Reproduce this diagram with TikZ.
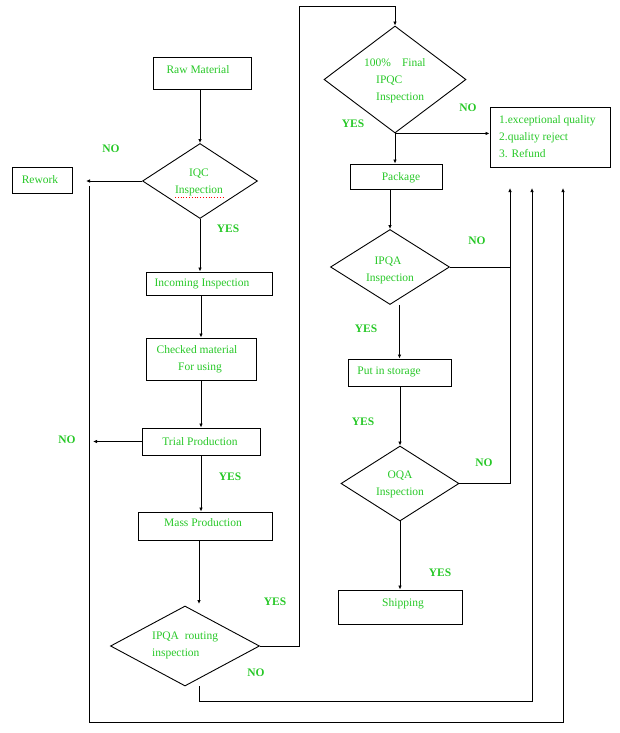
\documentclass[tikz,border=0pt]{standalone}
\usepackage{fontspec}
\setmainfont{Liberation Serif}
\usetikzlibrary{shapes.geometric,arrows.meta}
\definecolor{txtgreen}{RGB}{40,200,40}
\begin{document}
\begin{tikzpicture}[x=1pt,y=-1pt,
  every node/.style={font=\fontsize{11.5}{17}\selectfont, text=txtgreen},
  box/.style={draw=black, line width=0.9pt, rectangle, inner sep=0pt},
  dia/.style={draw=black, line width=0.9pt, diamond, inner sep=0pt},
  lbl/.style={font=\fontsize{11.5}{14}\selectfont\bfseries, text=txtgreen},
  txt/.style={inner sep=0pt, align=center},
  conn/.style={line width=0.9pt, draw=black},
  arr/.style={conn, -{Latex[length=4pt,width=3.5pt]}}]
\useasboundingbox (0,0) rectangle (619,733);

% shapes
\node[box, minimum width=98pt, minimum height=32pt] (raw) at (202,73) {};
\node[dia, minimum width=115pt, minimum height=75pt] (iqc) at (200,181) {};
\node[box, minimum width=60pt, minimum height=26pt] (rework) at (42,180) {};
\node[box, minimum width=126pt, minimum height=23pt] (inc) at (209,283.5) {};
\node[box, minimum width=110pt, minimum height=42pt] (chk) at (201,359) {};
\node[box, minimum width=118pt, minimum height=27pt] (trial) at (201,441.5) {};
\node[box, minimum width=134pt, minimum height=28pt] (mass) at (205,526) {};
\node[dia, minimum width=149pt, minimum height=80pt] (ipqar) at (185,646) {};
\node[dia, minimum width=142pt, minimum height=107pt] (ipqc) at (395,79.5) {};
\node[box, minimum width=120pt, minimum height=60pt] (refund) at (550,137) {};
\node[box, minimum width=92pt, minimum height=25pt] (pkg) at (396,176.5) {};
\node[dia, minimum width=119pt, minimum height=75pt] (ipqa) at (390,267) {};
\node[box, minimum width=103pt, minimum height=27pt] (store) at (399.5,372.5) {};
\node[dia, minimum width=118pt, minimum height=75pt] (oqa) at (400,483.5) {};
\node[box, minimum width=124pt, minimum height=34pt] (ship) at (400,607) {};

% texts
\node[txt] (t-raw) at (198,70) {Raw Material};
\node[txt] (t-iqc) at (199,182) {IQC\\Inspection};
\draw[red, dotted, line width=0.8pt] (175,197) -- (224,197);
\node[txt] (t-rework) at (40,180) {Rework};
\node[txt] (t-inc) at (202,284) {Incoming Inspection};
\node[txt] (t-chk) at (197,359) {Checked material\\\hspace*{6pt}For using};
\node[txt] (t-trial) at (200,442) {Trial Production};
\node[txt] (t-mass) at (203,523) {Mass Production};
\node[txt, anchor=west, align=left] (t-ipqar) at (152,645) {IPQA\ \ routing\\inspection};
\node[txt, anchor=west, align=left] (t-ipqc) at (376,80.5) {\hspace*{-12pt}100\%\hspace{11pt}Final\\IPQC\\Inspection};
\node[txt, anchor=west, align=left] (t-refund) at (499,137) {1.exceptional quality\\2.quality reject\\3. Refund};
\node[txt] (t-pkg) at (401,178) {Package};
\node[txt] (t-ipqa) at (388,270) {IPQA\\\hspace*{4pt}Inspection};
\node[txt] (t-store) at (389,372) {Put in storage};
\node[txt] (t-oqa) at (400,484.5) {OQA\\Inspection};
\node[txt] (t-ship) at (403,604) {Shipping};

% labels
\node[lbl] (n1) at (111,149) {NO};
\node[lbl] (y1) at (228,229) {YES};
\node[lbl] (n2) at (67,440) {NO};
\node[lbl] (y2) at (230,477) {YES};
\node[lbl] (y3) at (275,602) {YES};
\node[lbl] (n3) at (256,673) {NO};
\node[lbl] (n4) at (468,108) {NO};
\node[lbl] (y4) at (353,124) {YES};
\node[lbl] (n5) at (477,241) {NO};
\node[lbl] (y5) at (366,329) {YES};
\node[lbl] (y6) at (363,422) {YES};
\node[lbl] (n6) at (484,463) {NO};
\node[lbl] (y7) at (440,573) {YES};

% coordinates
\coordinate (rwA) at (86,181);
\coordinate (trA) at (93,441.5);
\coordinate (m2) at (199,604);
\coordinate (yTop) at (299,6);
\coordinate (c1) at (510,188);
\coordinate (n2s) at (199,686);
\coordinate (c2b) at (532,701);
\coordinate (c2) at (532,188);
\coordinate (loopT) at (89,186);
\coordinate (loopB) at (563,722);
\coordinate (c3) at (563,188);

% connectors
\draw[arr] (raw.south -| iqc) -- (iqc.north);
\draw[arr] (iqc.west) -- (rwA);
\draw[arr] (iqc.south) -- (iqc.south |- inc.north);
\draw[arr] (chk.north |- inc.south) -- (chk.north);
\draw[arr] (chk.south) -- (chk.south |- trial.north);
\draw[arr] (trial.west) -- (trA);
\draw[arr] (trial.south) -- (trial.south |- mass.north);
\draw[arr] (mass.south -| m2) -- (m2);
\draw[arr] (ipqar.east) -| (yTop) -| (ipqc.north);
\draw[arr] (ipqc.south) -- (ipqc.south -| refund.west);
\draw[arr] (ipqc.south) -- (ipqc.south |- pkg.north);
\draw[arr] (pkg.south -| ipqa.north) -- (ipqa.north);
\draw[arr] (ipqa.south -| store.north) -- (store.north);
\draw[arr] (store.south -| oqa.north) -- (oqa.north);
\draw[arr] (oqa.south) -- (oqa.south |- ship.north);
\draw[arr] (ipqa.east) -| (c1);
\draw[conn] (oqa.east) -| (ipqa.east -| c1);
\draw[arr] (n2s) |- (c2b) -- (c2);
\draw[arr] (loopT) |- (loopB) -- (c3);
\end{tikzpicture}
\end{document}
